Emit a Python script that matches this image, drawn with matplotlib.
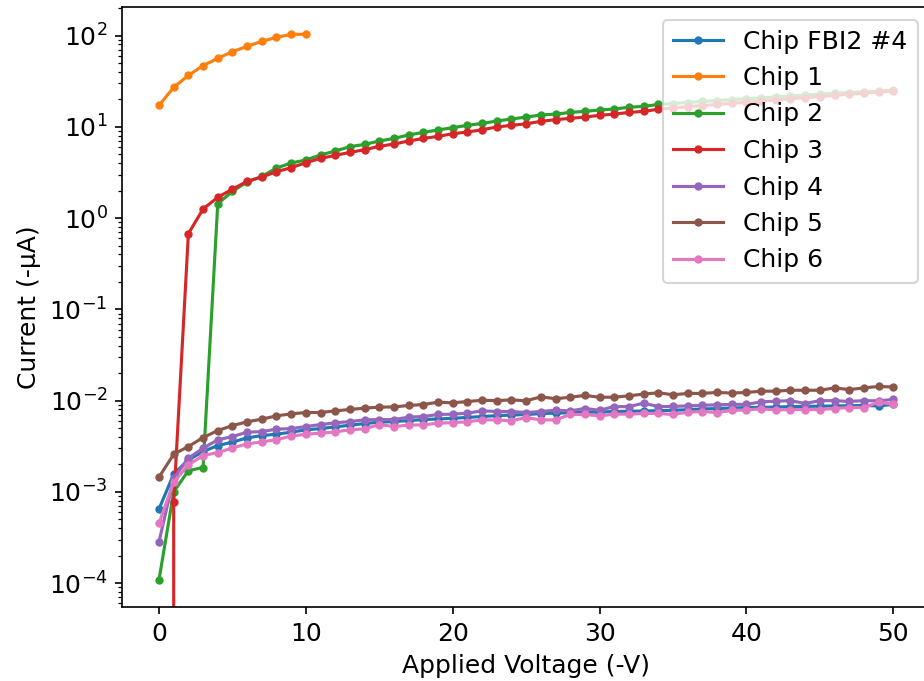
import numpy as np
import matplotlib
matplotlib.use("Agg")
import matplotlib.pyplot as plt

plt.rcParams["font.size"] = 12

voltage = list(range(0, 51))
voltage_chip1 = list(range(0, 11))

labels = ["Chip FBI2 #4", "Chip 1", "Chip 2", "Chip 3", "Chip 4", "Chip 5", "Chip 6"]

# Leakage current in -uA
chip_fbi2_4 = [6.5e-4, 1.57e-3, 2.24e-3, 2.77e-3, 3.22e-3, 3.51e-3, 3.91e-3, 4.14e-3, 4.29e-3, 4.51e-3,
               4.79e-3, 4.94e-3, 5.16e-3, 5.38e-3, 5.61e-3, 5.81e-3, 5.89e-3, 6.05e-3, 6.2e-3, 6.3e-3,
               6.4e-3, 6.55e-3, 6.7e-3, 6.85e-3, 6.95e-3, 7.05e-3, 7.2e-3, 7.3e-3, 7.35e-3, 7.45e-3,
               7.5e-3, 7.6e-3, 7.65e-3, 7.7e-3, 7.75e-3, 7.85e-3, 7.95e-3, 8.1e-3, 8.2e-3, 8.3e-3,
               8.4e-3, 8.45e-3, 8.5e-3, 8.6e-3, 8.65e-3, 8.7e-3, 8.75e-3, 8.8e-3, 8.85e-3, 8.75e-3,
               9.1e-3]

chip_1 = [17.2, 27.1, 36.7, 46.9, 56.4, 66.8, 76.3, 86.6, 95.8, 103.3, 103.5]

chip_2 = [1.09e-4, 1.0e-3, 1.71e-3, 1.85e-3, 1.44, 1.96, 2.5, 2.86, 3.54, 4.02,
          4.34, 4.92, 5.44, 6.07, 6.43, 7.0, 7.48, 8.15, 8.71, 9.25,
          9.8, 10.4, 10.9, 11.6, 12.2, 12.8, 13.5, 13.8, 14.4, 14.8,
          15.3, 15.7, 16.4, 16.8, 17.6, 18.0, 18.5, 19.0, 19.4, 19.9,
          20.3, 20.8, 21.3, 21.8, 22.3, 22.8, 23.3, 23.8, 24.2, 24.7,
          25.2]

chip_3 = [0.0, 7.7e-4, 0.675, 1.26, 1.69, 2.08, 2.53, 2.82, 3.23, 3.57,
          4.05, 4.52, 4.87, 5.26, 5.62, 6.12, 6.49, 7.0, 7.48, 7.87,
          8.42, 8.79, 9.31, 9.97, 10.4, 10.8, 11.5, 12.0, 12.4, 12.8,
          13.4, 13.8, 14.4, 14.8, 15.6, 16.1, 16.6, 17.1, 17.6, 18.1,
          18.6, 19.2, 19.7, 20.3, 20.9, 21.5, 22.1, 22.8, 23.4, 24.1,
          24.8]

chip_4 = [2.85e-4, 1.41e-3, 2.34e-3, 3.01e-3, 3.72e-3, 4.04e-3, 4.51e-3, 4.58e-3, 4.87e-3, 4.94e-3,
          5.2e-3, 5.47e-3, 5.71e-3, 5.9e-3, 6.16e-3, 6.2e-3, 6.2e-3, 6.6e-3, 6.7e-3, 7.05e-3,
          7.11e-3, 7.29e-3, 7.73e-3, 7.6e-3, 7.6e-3, 7.41e-3, 7.6e-3, 7.85e-3, 7.73e-3, 8.2e-3,
          7.85e-3, 8.6e-3, 8.6e-3, 9.38e-3, 8.6e-3, 8.65e-3, 8.75e-3, 8.9e-3, 9.0e-3, 9.1e-3,
          9.1e-3, 9.7e-3, 9.85e-3, 1.0e-2, 9.3e-3, 1.0e-2, 1.0e-2, 9.8e-3, 1.0e-2, 9.95e-3,
          1.03e-2]

chip_5 = [1.45e-3, 2.59e-3, 3.14e-3, 3.94e-3, 4.7e-3, 5.33e-3, 5.86e-3, 6.27e-3, 6.81e-3, 7.16e-3,
          7.41e-3, 7.41e-3, 7.73e-3, 8.0e-3, 8.27e-3, 8.49e-3, 8.53e-3, 8.85e-3, 9.06e-3, 9.62e-3,
          9.46e-3, 9.78e-3, 1.01e-2, 1.0e-2, 1.02e-2, 9.96e-3, 1.1e-2, 1.05e-2, 1.09e-2, 1.14e-2,
          1.09e-2, 1.09e-2, 1.13e-2, 1.18e-2, 1.22e-2, 1.16e-2, 1.2e-2, 1.2e-2, 1.23e-2, 1.21e-2,
          1.23e-2, 1.27e-2, 1.27e-2, 1.3e-2, 1.3e-2, 1.3e-2, 1.38e-2, 1.32e-2, 1.38e-2, 1.43e-2,
          1.41e-2]

chip_6 = [4.54e-4, 1.28e-3, 1.98e-3, 2.5e-3, 2.7e-3, 3.03e-3, 3.36e-3, 3.53e-3, 3.74e-3, 4.08e-3,
          4.29e-3, 4.4e-3, 4.55e-3, 4.79e-3, 4.91e-3, 5.47e-3, 5.2e-3, 5.4e-3, 5.43e-3, 5.66e-3,
          5.75e-3, 5.86e-3, 6.15e-3, 6.15e-3, 6.01e-3, 6.53e-3, 6.15e-3, 6.15e-3, 7.05e-3, 7.05e-3,
          6.81e-3, 7.11e-3, 7.11e-3, 7.23e-3, 7.23e-3, 7.05e-3, 7.48e-3, 7.6e-3, 7.41e-3, 7.8e-3,
          7.92e-3, 8.13e-3, 7.92e-3, 7.98e-3, 7.98e-3, 7.98e-3, 8.2e-3, 8.41e-3, 8.41e-3, 9.62e-3,
          9.14e-3]

series = [
    (voltage, chip_fbi2_4),
    (voltage_chip1, chip_1),
    (voltage, chip_2),
    (voltage, chip_3),
    (voltage, chip_4),
    (voltage, chip_5),
    (voltage, chip_6),
]

W, H = 924, 681
fig = plt.figure(figsize=(W / 150, H / 150), dpi=150)
left, right, bottom, top = 122.3, 930.0, 607.0, 7.0
ax = fig.add_axes([left / W, (H - bottom) / H, (right - left) / W, (bottom - top) / H])

for (x, y), lab in zip(series, labels):
    ax.plot(x, y, marker=".", label=lab)

ax.set_yscale("log")
ax.set_xlim(-2.5, 52.5)
ax.set_xlabel("Applied Voltage (-V)")
ax.set_ylabel("Current (-µA)")
ax.legend(loc="upper right")

fig.savefig("out.png", dpi=150)
